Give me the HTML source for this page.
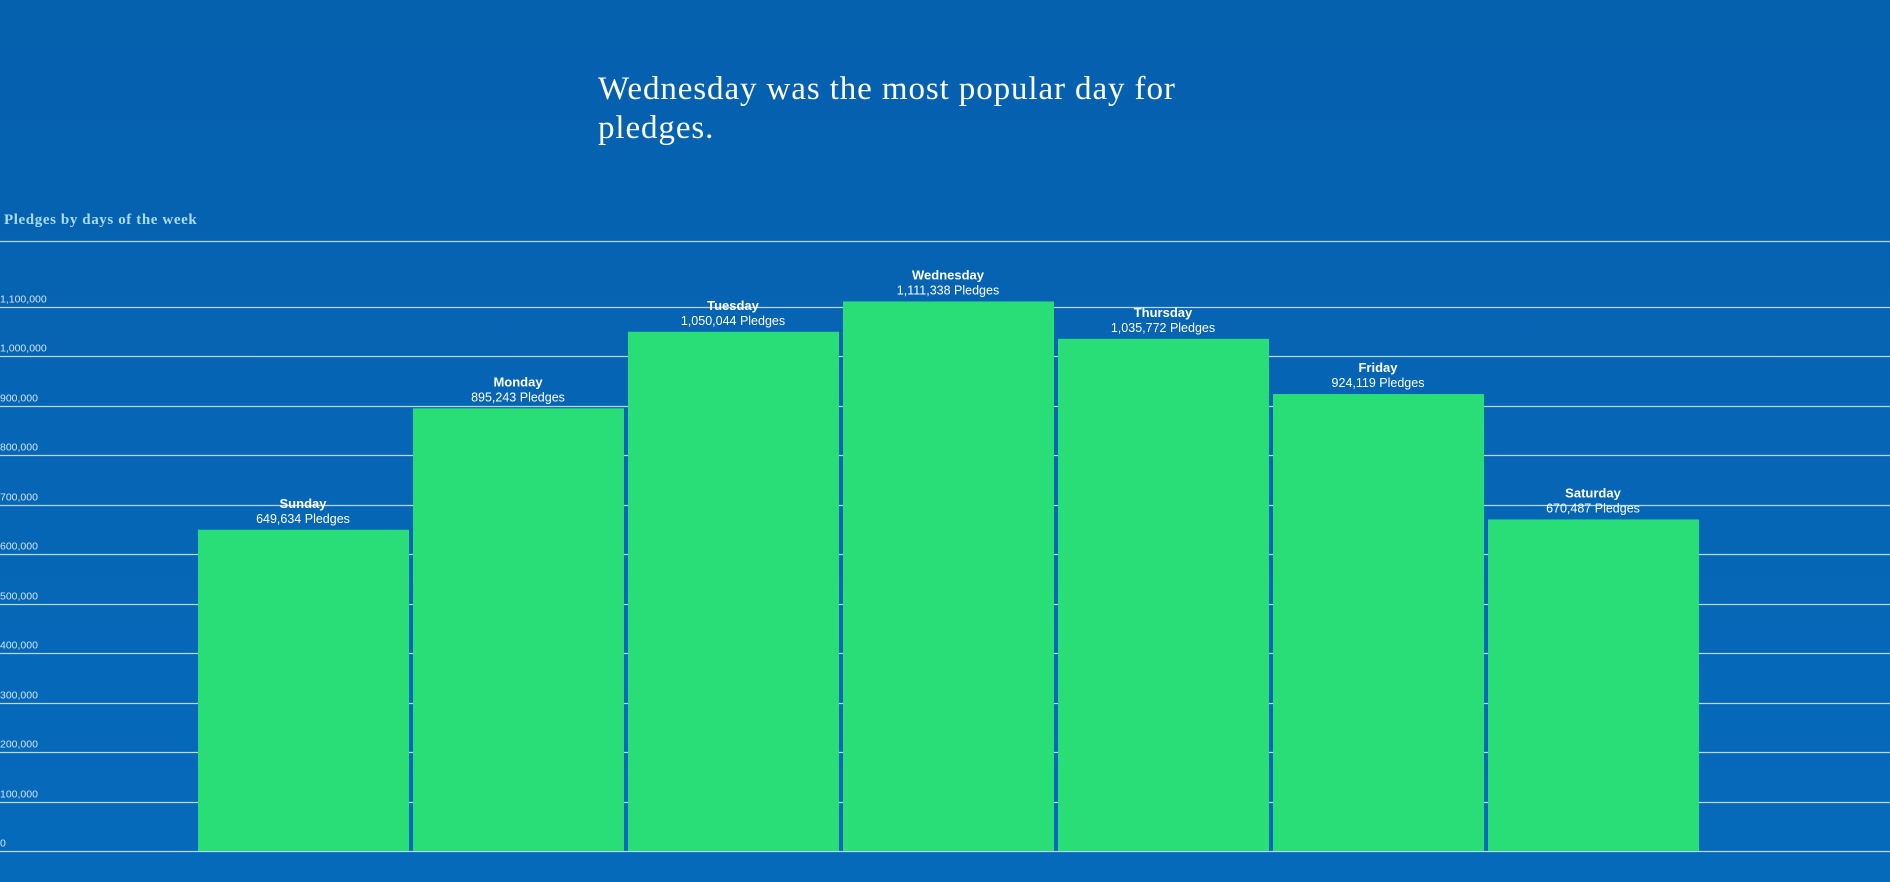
<!DOCTYPE html>
<html><head><meta charset="utf-8"><style>
html,body{margin:0;padding:0}
body{width:1890px;height:882px;overflow:hidden;background:linear-gradient(#0560ae,#066abb);position:relative;font-family:"Liberation Sans",Arial,sans-serif}
.t{position:absolute;left:598px;top:70px;color:#fff;font-family:"Liberation Serif",serif;font-size:33px;letter-spacing:0.9px;line-height:39px}
.s{position:absolute;left:4px;top:212px;color:#a9dcf2;font-family:"Liberation Serif",serif;font-weight:bold;font-size:15px;letter-spacing:0.6px}
</style></head><body>
<div class="t">Wednesday was the most popular day for<br>pledges.</div>
<div class="s">Pledges by days of the week</div>
<svg width="1890" height="882" style="position:absolute;left:0;top:0">
<g id="grid" stroke="#b5d8f3" stroke-width="1.3"></g>
<g id="bars"></g>
<g id="lab" font-family="Liberation Sans,Arial,sans-serif" fill="#fff" text-anchor="middle"></g>
</svg>
<script>
var ns="http://www.w3.org/2000/svg";
function el(p,t,a,txt){var e=document.createElementNS(ns,t);for(var k in a)e.setAttribute(k,a[k]);if(txt!=null)e.textContent=txt;p.appendChild(e);return e;}
var g=document.getElementById('grid'),b=document.getElementById('bars'),l=document.getElementById('lab');
var base=851,pp=49.45/100000;
el(g,'line',{x1:0,x2:1890,y1:241.5,y2:241.5});
for(var i=0;i<=11;i++){var y=Math.round(base-i*100000*pp)+0.5;
el(g,'line',{x1:0,x2:1890,y1:y,y2:y});
el(document.querySelector('svg'),'text',{x:0,y:y-5,fill:'#cfe6f8','font-size':'10.5','font-family':'Liberation Sans,Arial,sans-serif'},i==0?'0':(i*100000).toLocaleString('en-US'));}
var d=[["Sunday",649634],["Monday",895243],["Tuesday",1050044],["Wednesday",1111338],["Thursday",1035772],["Friday",924119],["Saturday",670487]];
d.forEach(function(v,i){var x=198+i*215,top=base-v[1]*pp;
el(b,'rect',{x:x,y:top,width:211,height:base-top,fill:'#2ade77'});
el(l,'text',{x:x+105,y:top-22,'font-size':'13','font-weight':'bold'},v[0]);
el(l,'text',{x:x+105,y:top-7,'font-size':'12.5'},v[1].toLocaleString('en-US')+' Pledges');});
</script>
</body></html>
